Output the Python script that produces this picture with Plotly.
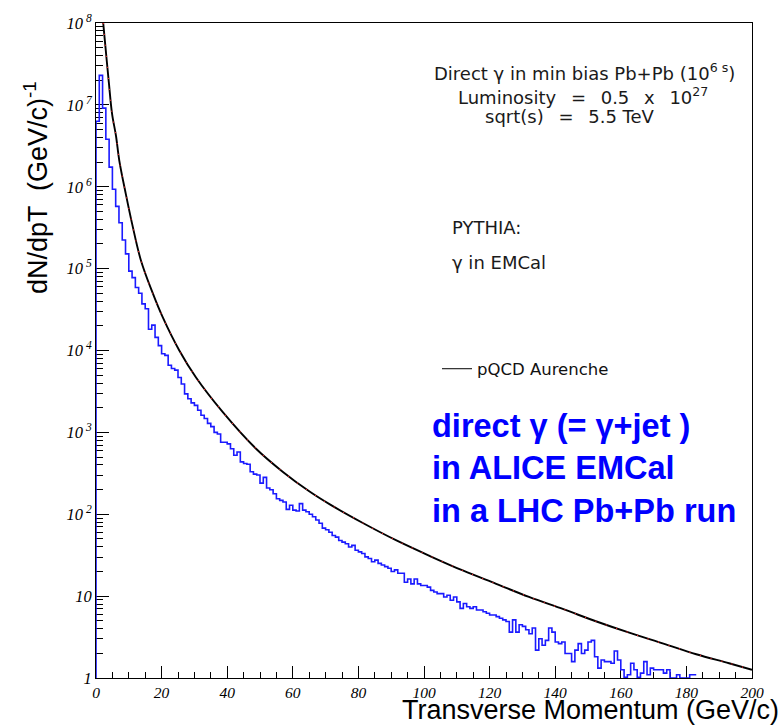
import plotly.graph_objects as go

# ---------------- data ----------------
# pQCD Aurenche curve: transverse momentum (GeV/c) and log10(dN/dpT)
pqcd_pt = [2.2, 2.5, 3.9, 4.9, 6.1, 7.1, 9.1, 11.0, 13.7, 17.3, 20.3, 25.4, 30.5,
           38.6, 48.8, 56.9, 65.0, 71.3, 81.5, 91.6, 101.8, 112.0, 122.0, 132.0,
           142.5, 152.6, 162.8, 173.0, 183.0, 193.0, 200.0]
pqcd_log10 = [8.00, 7.87, 7.28, 6.89, 6.62, 6.32, 5.91, 5.55, 5.10, 4.70, 4.41, 4.00, 3.67,
              3.25, 2.80, 2.52, 2.28, 2.12, 1.89, 1.68, 1.49, 1.31, 1.15, 0.99,
              0.84, 0.69, 0.55, 0.42, 0.29, 0.18, 0.10]

# PYTHIA gamma in EMCal histogram, 1 GeV/c bins starting at 0, log10(counts)
bin_width = 1.0
pythia_log10 = [
    6.80, 7.36, 6.96, 6.58, 6.24, 5.97, 5.76, 5.56, 5.35, 5.18,
    4.97, 4.89, 4.77, 4.70, 4.57, 4.51, 4.26, 4.31, 4.16, 4.06,
    3.96, 3.94, 3.82, 3.78, 3.76, 3.67, 3.59, 3.47, 3.41, 3.36,
    3.33, 3.27, 3.21, 3.17, 3.11, 3.07, 3.00, 2.98, 2.88, 2.88,
    2.86, 2.80, 2.72, 2.76, 2.64, 2.62, 2.61, 2.52, 2.49, 2.48,
    2.38, 2.45, 2.32, 2.30, 2.25, 2.19, 2.17, 2.15, 2.06, 2.11,
    2.05, 2.04, 2.13, 2.05, 2.03, 2.00, 1.97, 1.93, 1.89, 1.83,
    1.81,
    1.78, 1.74, 1.72, 1.68, 1.66, 1.64, 1.60, 1.62, 1.56, 1.54,
    1.52, 1.48, 1.46, 1.42, 1.44, 1.40, 1.38, 1.36, 1.34, 1.30,
    1.32, 1.28, 1.28, 1.17, 1.21, 1.15, 1.21, 1.15, 1.13, 1.13,
    1.11, 1.07, 1.05, 1.03, 1.03, 0.99, 1.01, 0.95, 0.99, 0.93,
    0.85, 0.91, 0.87, 0.85, 0.87, 0.83, 0.83, 0.81, 0.79, 0.77,
    0.77, 0.75, 0.73, 0.71, 0.69, 0.56, 0.71, 0.56, 0.65, 0.63,
    0.59, 0.54, 0.61, 0.34, 0.48, 0.40, 0.46, 0.61, 0.56, 0.44,
    0.42, 0.44, 0.30, 0.30, 0.20, 0.34, 0.42, 0.30, 0.34, 0.44,
    0.46, 0.26, 0.12, 0.22, 0.20, 0.20, 0.18, 0.33, 0.22, 0.10,
    0.01, 0.04, 0.18, 0.10, 0.01, 0.06, 0.20, 0.04, 0.12, 0.10,
    0.10, 0.10, 0.06, 0.10, 0.00, 0.00, 0.04, 0.00, 0.00, 0.00,
    0.04, 0.04,
]

x_ticks = [0, 20, 40, 60, 80, 100, 120, 140, 160, 180, 200]
x_ticktext = ["0", "20", "40", "60", "80", "100", "120", "140", "160", "180", "200"]
y_ticks = [1, 10, 1e2, 1e3, 1e4, 1e5, 1e6, 1e7, 1e8]
y_ticktext = ["1", "10", "10<sup> 2</sup>", "10<sup> 3</sup>", "10<sup> 4</sup>",
              "10<sup> 5</sup>", "10<sup> 6</sup>", "10<sup> 7</sup>", "10<sup> 8</sup>"]
y_minor = [k * 10 ** n for n in range(8) for k in range(2, 10)]

# ---------------- derived series ----------------
pqcd_y = [10 ** v for v in pqcd_log10]
pythia_counts = [10 ** v for v in pythia_log10]
n_bins = len(pythia_counts)
hist_x = [0.0] + [i * bin_width for i in range(n_bins)] + [n_bins * bin_width]
hist_y = [1.0] + pythia_counts + [pythia_counts[-1]]

# ---------------- geometry helpers (plot frame in pixels) ----------------
W, H = 783, 725
L, R, T, B = 96, 752, 23, 678


def px(x):
    return (x - L) / (R - L)


def py(y):
    return (B - y) / (B - T)


fig = go.Figure()

fig.add_trace(go.Scatter(
    x=hist_x, y=hist_y, mode="lines", line=dict(color="#1a1aff", width=1.6, shape="hv"),
    showlegend=False, hoverinfo="skip"))

fig.add_trace(go.Scatter(
    x=pqcd_pt, y=pqcd_y, mode="lines", line=dict(color="black", width=1.9, shape="spline",
                                                 smoothing=1.0),
    showlegend=False, hoverinfo="skip"))
fig.add_trace(go.Scatter(
    x=pqcd_pt, y=pqcd_y, mode="lines",
    line=dict(color="#ff2a2a", width=1.2, shape="spline", smoothing=1.0, dash="1px,10px"),
    showlegend=False, hoverinfo="skip"))

# legend-only entry
fig.add_trace(go.Scatter(
    x=[None], y=[None], mode="lines", line=dict(color="black", width=1),
    name="pQCD Aurenche", showlegend=True))

x_tick_font = dict(family="Liberation Serif", size=15.5, color="black")
y_tick_font = dict(family="Liberation Serif", size=16.5, color="black")

fig.update_layout(
    width=W, height=H,
    margin=dict(l=L, r=W - R, t=T, b=H - B, pad=0),
    paper_bgcolor="white", plot_bgcolor="white",
    showlegend=True,
    legend=dict(x=px(437), y=py(369), xanchor="left", yanchor="middle",
                bgcolor="rgba(0,0,0,0)", borderwidth=0,
                font=dict(family="DejaVu Sans", size=16.5, color="#111"),
                itemwidth=30),
    xaxis=dict(
        range=[0, 200], showgrid=False, zeroline=False,
        showline=True, linecolor="black", linewidth=1, mirror=True,
        ticks="inside", ticklen=12, tickwidth=1, tickcolor="black",
        tickvals=x_ticks, ticktext=["<i>%s</i>" % t for t in x_ticktext],
        tickfont=x_tick_font,
        minor=dict(ticks="inside", ticklen=6, tickwidth=1, tickcolor="black",
                   dtick=5, tick0=0, showgrid=False),
        layer="below traces",
    ),
    yaxis=dict(
        type="log", range=[0, 8], showgrid=False, zeroline=False,
        showline=True, linecolor="black", linewidth=1, mirror=True,
        ticks="inside", ticklen=13, tickwidth=1, tickcolor="black",
        tickvals=y_ticks, ticktext=["<i>%s</i>" % t for t in y_ticktext],
        tickfont=y_tick_font,
        minor=dict(ticks="inside", ticklen=7, tickwidth=1, tickcolor="black",
                   tickvals=y_minor, showgrid=False),
        layer="below traces",
    ),
)

annotations = []
# axis titles
annotations.append(dict(
    text="dN/dpT  (GeV/c)<sup>-1</sup>", xref="paper", yref="paper",
    x=px(36), y=py(188), xanchor="center", yanchor="middle", textangle=-90,
    showarrow=False, font=dict(family="Liberation Sans", size=27, color="black")))
annotations.append(dict(
    text="Transverse Momentum (GeV/c)", xref="paper", yref="paper",
    x=px(781), y=py(710), xanchor="right", yanchor="middle",
    showarrow=False, font=dict(family="Liberation Sans", size=27, color="black")))

info_font = dict(family="DejaVu Sans", size=18, color="#1a1a1a")
sp = "\u2002 "
for txt, cx, cy in [
    ("Direct γ in min bias Pb+Pb (10<sup>6 s</sup>)", 584, 72),
    ("Luminosity" + sp + "=" + sp + "0.5" + sp + "x" + sp + "10<sup>27</sup>", 583, 96),
    ("sqrt(s)" + sp + "=" + sp + "5.5 TeV", 570, 117),
]:
    annotations.append(dict(text=txt, xref="paper", yref="paper", x=px(cx), y=py(cy),
                            xanchor="center", yanchor="middle", showarrow=False, font=info_font))

for txt, cy in [("PYTHIA:", 228), ("γ in EMCal", 262)]:
    annotations.append(dict(text=txt, xref="paper", yref="paper", x=px(450), y=py(cy),
                            xanchor="left", yanchor="middle", showarrow=False,
                            font=dict(family="DejaVu Sans", size=18, color="#1a1a1a")))

blue_font = dict(family="Liberation Sans", size=32.5, color="#0000ff")
for txt, cy in [("<b>direct γ (= γ+jet )</b>", 426),
                ("<b>in ALICE EMCal</b>", 468),
                ("<b>in a LHC Pb+Pb run</b>", 511)]:
    annotations.append(dict(text=txt, xref="paper", yref="paper", x=px(430), y=py(cy),
                            xanchor="left", yanchor="middle", showarrow=False, font=blue_font))

fig.update_layout(annotations=annotations)

fig.write_html("out.html")
